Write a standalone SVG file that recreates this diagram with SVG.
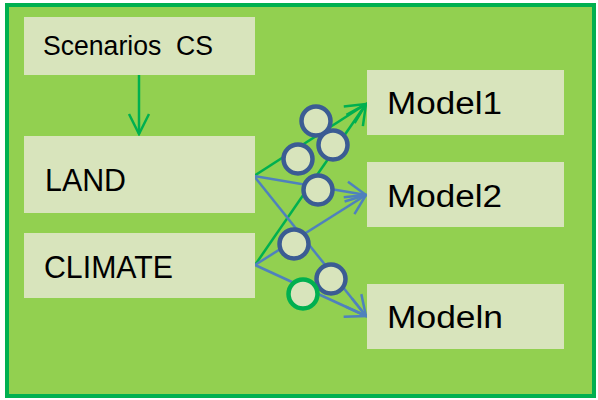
<svg xmlns="http://www.w3.org/2000/svg" width="598" height="400" viewBox="0 0 598 400">
<style>
.box{fill:#D8E4BC}
.lbl{font-family:"Liberation Sans",Arial,sans-serif;fill:#000}
.g{stroke:#00B050;stroke-width:2.5;fill:none}
.b{stroke:#4F81BD;stroke-width:2.5;fill:none}
.c{fill:#D8E4BC;stroke:#3B5C93;stroke-width:4.5}
.cg{fill:#D8E4BC;stroke:#00B050;stroke-width:4.5}
</style>
<defs>
<marker id="ag" viewBox="0 0 24 24" refX="22" refY="12" markerWidth="24" markerHeight="24" markerUnits="userSpaceOnUse" orient="auto">
<path d="M2,2 L22,12 L2,22" fill="none" stroke="#00B050" stroke-width="2.5"/>
</marker>
<marker id="ab" viewBox="0 0 24 24" refX="22" refY="12" markerWidth="24" markerHeight="24" markerUnits="userSpaceOnUse" orient="auto">
<path d="M2,2 L22,12 L2,22" fill="none" stroke="#4F81BD" stroke-width="2.5"/>
</marker>
</defs>
<rect x="7" y="5" width="587" height="391" fill="#92D050" stroke="#00B050" stroke-width="4"/>
<g id="connectors">
<line class="g" x1="139" y1="75" x2="139" y2="134" marker-end="url(#ag)"/>
<line class="g" x1="254" y1="176" x2="366" y2="104" marker-end="url(#ag)"/>
<line class="g" x1="255" y1="265" x2="366" y2="104" marker-end="url(#ag)"/>
<line class="b" x1="254" y1="176" x2="366" y2="195" marker-end="url(#ab)"/>
<line class="b" x1="254" y1="176" x2="366" y2="316" marker-end="url(#ab)"/>
<line class="b" x1="255" y1="265" x2="366" y2="195" marker-end="url(#ab)"/>
<line class="b" x1="255" y1="265" x2="366" y2="316" marker-end="url(#ab)"/>
</g>
<g id="circles">
<circle class="c" cx="316" cy="121" r="14.5"/>
<circle class="c" cx="333" cy="145" r="14.5"/>
<circle class="c" cx="298" cy="159" r="14.5"/>
<circle class="c" cx="318" cy="190" r="14.5"/>
<circle class="c" cx="294" cy="244" r="14.5"/>
<circle class="c" cx="331" cy="279" r="14.5"/>
<circle class="cg" cx="303" cy="294" r="14.5"/>
</g>
<g id="scenarios"><rect class="box" x="24" y="17" width="231" height="58"/><text class="lbl" x="43" y="55" font-size="27" textLength="170" lengthAdjust="spacingAndGlyphs" xml:space="preserve">Scenarios  CS</text></g>
<g id="land"><rect class="box" x="24" y="136" width="231" height="77"/><text class="lbl" x="45" y="191" font-size="32" textLength="81" lengthAdjust="spacingAndGlyphs">LAND</text></g>
<g id="climate"><rect class="box" x="24" y="233" width="231" height="65"/><text class="lbl" x="44" y="278" font-size="32" textLength="129" lengthAdjust="spacingAndGlyphs">CLIMATE</text></g>
<g id="model1"><rect class="box" x="367" y="70" width="197" height="65"/><text class="lbl" x="387" y="114" font-size="31" textLength="115" lengthAdjust="spacingAndGlyphs">Model1</text></g>
<g id="model2"><rect class="box" x="367" y="162" width="197" height="65"/><text class="lbl" x="387" y="207" font-size="31" textLength="115" lengthAdjust="spacingAndGlyphs">Model2</text></g>
<g id="modeln"><rect class="box" x="367" y="284" width="197" height="65"/><text class="lbl" x="387" y="328" font-size="31" textLength="116" lengthAdjust="spacingAndGlyphs">Modeln</text></g>
</svg>
